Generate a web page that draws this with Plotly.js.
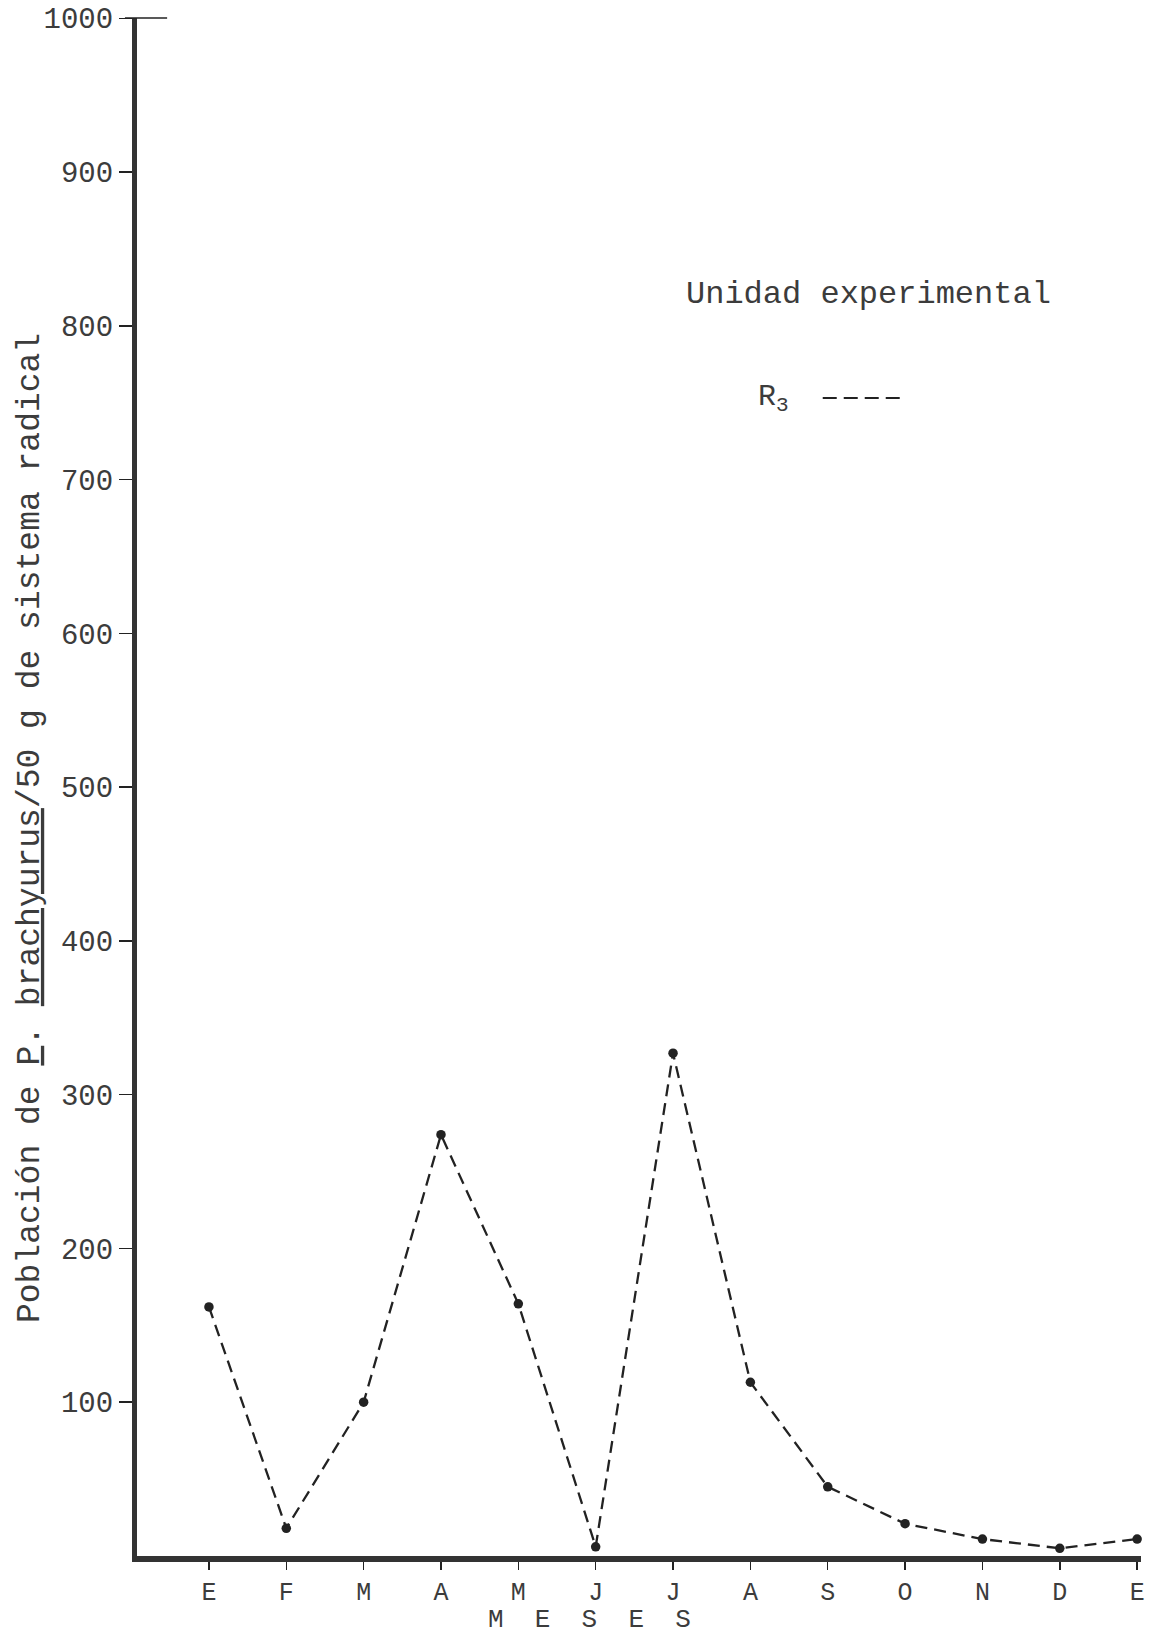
<!DOCTYPE html>
<html>
<head>
<meta charset="utf-8">
<script src="https://cdn.plot.ly/plotly-3.0.1.min.js"></script>
<style>
  html, body { margin: 0; padding: 0; background: #ffffff; }
  #chart { width: 1168px; height: 1638px; }
</style>
</head>
<body>
<div id="chart"></div>
<script>
// Months (E = enero ... E = enero del siguiente año)
const months = ["E", "F", "M", "A", "M", "J", "J", "A", "S", "O", "N", "D", "E"];
// Población de P. brachyurus / 50 g de sistema radical — unidad experimental R3
const r3Values = [162, 18, 100, 274, 164, 6, 327, 113, 45, 21, 11, 5, 11];
const yTickVals = [100, 200, 300, 400, 500, 600, 700, 800, 900, 1000];
const yTickText = ["100", "200", "300", "400", "500", "600", "700", "800", "900", "1000"];

const monthIndex = months.map((m, i) => i);

const FONT = "Liberation Mono, DejaVu Sans Mono, monospace";
const INK = "#222222";
const TEXT = "#3c3c3c";

const trace = {
  x: monthIndex,
  y: r3Values,
  type: "scatter",
  mode: "lines+markers",
  name: "R3",
  line: { color: INK, width: 2.3, dash: "12px,7px" },
  marker: { color: INK, size: 9.5 },
  showlegend: false,
  cliponaxis: false
};

const layout = {
  width: 1168,
  height: 1638,
  margin: { l: 137, r: 27, t: 18, b: 82 },
  paper_bgcolor: "#ffffff",
  plot_bgcolor: "#ffffff",
  font: { family: FONT, color: TEXT, size: 28 },
  xaxis: {
    range: [-0.93, 12.05],
    tickmode: "array",
    tickvals: monthIndex,
    ticktext: months,
    ticks: "outside",
    ticklen: 8,
    tickwidth: 1.5,
    tickcolor: INK,
    showline: true,
    linecolor: "#333333",
    linewidth: 6,
    showgrid: false,
    zeroline: false,
    ticklabeloverflow: "allow",
    tickfont: { family: FONT, size: 25, color: TEXT }
  },
  yaxis: {
    range: [0, 1000.2],
    tickmode: "array",
    tickvals: yTickVals,
    ticktext: yTickText,
    ticks: "outside",
    ticklen: 13,
    tickwidth: 1.5,
    tickcolor: INK,
    showline: true,
    linecolor: "#333333",
    linewidth: 5,
    showgrid: false,
    zeroline: false,
    ticklabeloverflow: "allow",
    tickfont: { family: FONT, size: 29, color: TEXT }
  },
  shapes: [
    { type: "line", xref: "paper", yref: "paper", x0: -0.012, x1: 0.03, y0: 1, y1: 1,
      line: { color: INK, width: 1.5 } },
    { type: "line", xref: "paper", yref: "paper", x0: 0.683, x1: 0.7649, y0: 0.7529, y1: 0.7529,
      line: { color: INK, width: 2, dash: "14px,7px" } }
  ],
  annotations: [
    { xref: "paper", yref: "paper", x: -0.1066, y: 0.4733, xanchor: "center", yanchor: "middle",
      textangle: -90, showarrow: false,
      text: "Población de <u>P</u>. <u>brachyurus</u>/50 g de sistema radical",
      font: { family: FONT, size: 33, color: TEXT } },
    { xref: "paper", yref: "paper", x: 0.451, y: -0.0525, xanchor: "center", yanchor: "bottom",
      showarrow: false, text: "M  E  S  E  S",
      font: { family: FONT, size: 26, color: TEXT } },
    { xref: "paper", yref: "paper", x: 0.545, y: 0.820, xanchor: "left", yanchor: "middle",
      showarrow: false, text: "Unidad experimental",
      font: { family: FONT, size: 32, color: TEXT } },
    { xref: "paper", yref: "paper", x: 0.617, y: 0.7529, xanchor: "left", yanchor: "middle",
      showarrow: false, text: "R<sub>3</sub>",
      font: { family: FONT, size: 30, color: TEXT } }
  ]
};

Plotly.newPlot("chart", [trace], layout, { displayModeBar: false, staticPlot: true });
</script>
</body>
</html>
